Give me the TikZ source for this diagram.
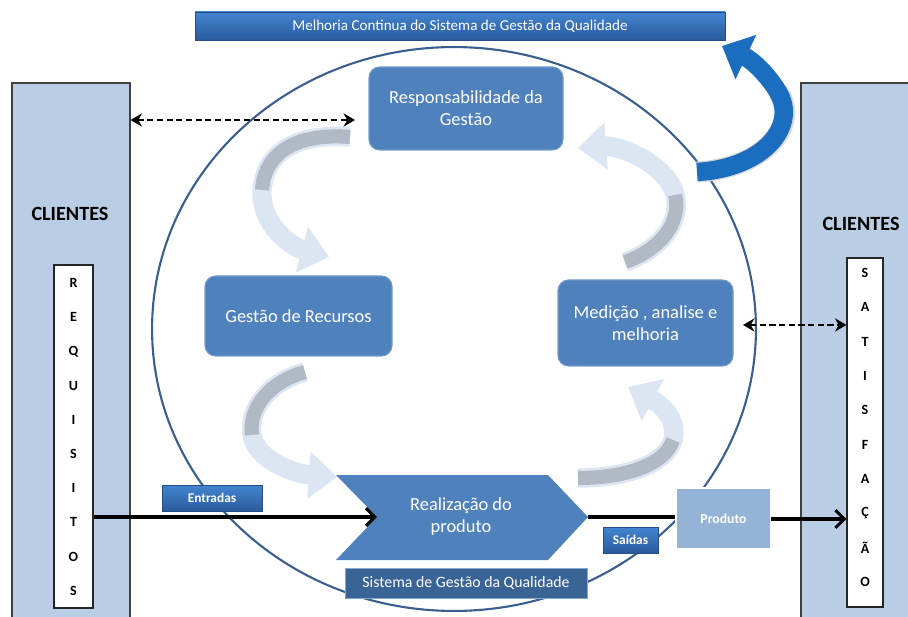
\documentclass[tikz,border=0pt]{standalone}
\usepackage{fontspec}
\setmainfont{Carlito}
\usetikzlibrary{arrows.meta,calc,shadows}

\definecolor{colbg}{HTML}{B9CDE5}
\definecolor{boxblue}{HTML}{4F81BD}
\definecolor{gradtop}{HTML}{4384D0}
\definecolor{gradbot}{HTML}{2A5B9C}
\definecolor{sgqblue}{HTML}{3A6396}
\definecolor{prodblue}{HTML}{95B3D7}
\definecolor{ringblue}{HTML}{3A5F8E}
\definecolor{flowblue}{HTML}{DCE6F2}
\definecolor{flowgray}{HTML}{B0B9C4}
\definecolor{bigblue}{HTML}{1A6DBF}

\tikzset{
  wh/.style 2 args={minimum width=#1*0.02cm, minimum height=#2*0.02cm, inner sep=0pt},
  column/.style={draw=black!75, fill=colbg, line width=0.6pt},
  letterbar/.style={draw=black!85, fill=white, line width=0.6pt},
  letter/.style={font=\bfseries\fontsize{8}{9}\selectfont, inner sep=0pt},
  clientes/.style={font=\bfseries\fontsize{11.5}{13}\selectfont, text=black},
  procbox/.style={rounded corners=6pt, fill=boxblue, draw=boxblue!80!white, line width=0.6pt,
    text=white, align=center, font=\fontsize{10.5}{12.5}\selectfont},
  gradbox/.style={top color=gradtop, bottom color=gradbot, draw=gradbot!85!black, line width=0.3pt,
    text=white, drop shadow={shadow xshift=0.8pt, shadow yshift=-0.8pt, opacity=0.35}},
  flow/.style={line width=11pt, draw=flowblue, -{Triangle[length=16pt,width=26pt]}},
  flowtail/.style={line width=8pt, draw=flowgray},
  mainflow/.style={line width=1.8pt, draw=black},
  link/.style={line width=1.2pt, draw=black, dash pattern=on 3.5pt off 2pt,
    {Stealth[length=6.5pt,width=7.5pt]}-{Stealth[length=6.5pt,width=7.5pt]}},
}

\begin{document}
\begin{tikzpicture}[x=0.02cm, y=-0.02cm]
\useasboundingbox (0,0) rectangle (908,617);
\clip (0,0) rectangle (908,617);

% customer columns
\node[column, wh={118}{542}] (leftcol) at (71,354) {};
\node[column, wh={110}{542}] (rightcol) at (856,354) {};
\node[clientes] (cliL) at (70,214) {CLIENTES};
\node[clientes] (cliR) at (861,224) {CLIENTES};

\node[letterbar, wh={39}{343}] (req) at (73.5,436.5) {};
\node[letterbar, wh={36}{349}] (sat) at (865,432.5) {};
\foreach \c [count=\i from 0] in {R,E,Q,U,I,S,I,T,O,S}
  \node[letter] (req\i) at (73.5,{283+34.2*\i}) {\c};
\foreach \c [count=\i from 0] in {S,A,T,I,S,F,A,Ç,Ã,O}
  \node[letter] (sat\i) at (865,{273+34.3*\i}) {\c};

% quality management system boundary
\draw[ringblue, line width=1.2pt] (454,329) ellipse [x radius=6.04cm, y radius=5.64cm];

% circulation arrows between the processes
\draw[flow] (350,137) .. controls (300,133) and (265,150) .. (262,190)
                      .. controls (260,225) and (292,247) .. (329,257);
\draw[flowtail] (350,137) .. controls (300,133) and (265,150) .. (262,190);

\draw[flow] (305,372) .. controls (268,382) and (248,410) .. (252,435)
                      .. controls (256,460) and (295,474) .. (337,477);
\draw[flowtail] (305,372) .. controls (268,382) and (248,410) .. (252,435);

\draw[flow] (578,478) .. controls (625,478) and (665,465) .. (673,440)
                      .. controls (678,420) and (662,405) .. (628,387);
\draw[flowtail] (578,478) .. controls (625,478) and (665,465) .. (673,440);

\draw[flow] (625,262) .. controls (660,250) and (682,222) .. (675,195)
                      .. controls (668,165) and (620,145) .. (578,148);
\draw[flowtail] (625,262) .. controls (660,250) and (682,222) .. (675,195);

% continual improvement arrow
\draw[line width=12pt, draw=black!15] (697,172) .. controls (765,168) and (800,125) .. (778,92);
\draw[line width=10.5pt, draw=bigblue, -{Triangle[length=15pt,width=27pt]}]
  (697,172) .. controls (765,168) and (798,125) .. (778,92)
            .. controls (768,75) and (752,60) .. (722,46);

% title bar
\node[gradbox, wh={530}{28}, font=\fontsize{8.6}{10}\selectfont] (title) at (460,26)
  {Melhoria Continua do Sistema de Gestão da Qualidade};

% processes
\node[procbox, wh={194}{83}] (resp) at (466,108.5) {Responsabilidade da\\Gestão};
\node[procbox, wh={187}{80}] (rec) at (298.5,316) {Gestão de Recursos};
\node[procbox, wh={175}{86}] (med) at (645.5,323) {Medição , analise e\\melhoria};

% product realisation chevron
\coordinate (realin) at (377,517);
\coordinate (realout) at (588,517);
\fill[boxblue] (336,475) -- (548,475) -- (realout) -- (548,560) -- (336,560) -- (realin) -- cycle;
\node[text=white, align=center, font=\fontsize{10.5}{12.5}\selectfont] (real) at (461,517)
  {Realização do\\produto};

% inputs and outputs
\node[gradbox, wh={100}{26}, font=\bfseries\fontsize{7.6}{9}\selectfont] (entr) at (212,498) {Entradas};
\node[gradbox, wh={55}{26}, font=\bfseries\fontsize{7.6}{9}\selectfont] (said) at (630.5,540) {Saídas};
\node[fill=prodblue, draw=white, line width=1.5pt, wh={95}{61}, text=white,
  font=\bfseries\fontsize{7.8}{9}\selectfont,
  drop shadow={shadow xshift=0.8pt, shadow yshift=-0.8pt, opacity=0.3}] (prod) at (723.5,518.5) {Produto};

\node[fill=sgqblue, draw=boxblue!70!white, line width=0.5pt, wh={242}{30}, text=white,
  font=\fontsize{9}{11}\selectfont] (sgq) at (466,583) {Sistema de Gestão da Qualidade};

% main flow
\draw[mainflow, -{Straight Barb[length=5pt,width=10pt]}] (req.east |- realin) -- (realin);
\draw[mainflow] (realout) -- (prod.west |- realout);
\coordinate (prodout) at (771,519);
\draw[mainflow, -{Straight Barb[length=5pt,width=10pt]}] (prodout) -- (sat.west |- prodout);

% communication with customers
\coordinate (dashR) at (355,120);
\draw[link] (leftcol.east |- dashR) -- (dashR);
\coordinate (dashM) at (743,325);
\draw[link] (dashM) -- (sat.west |- dashM);
\end{tikzpicture}
\end{document}
